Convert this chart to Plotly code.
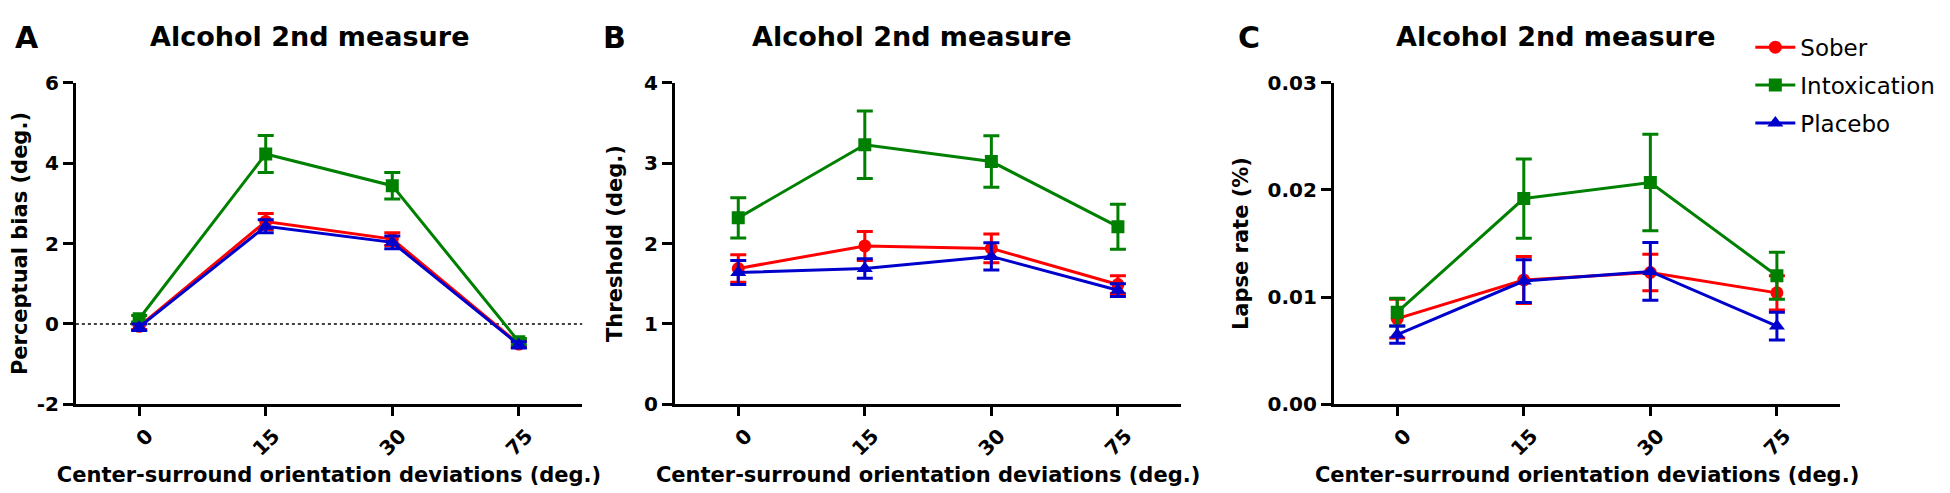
import plotly.graph_objects as go

# ---------------- data ----------------
categories = ["0", "15", "30", "75"]
series_names = ["Sober", "Intoxication", "Placebo"]

# Panel A: Perceptual bias (deg.)
bias_sober = [-0.06, 2.55, 2.11, -0.50]
bias_sober_err = [0.08, 0.20, 0.16, 0.08]
bias_intox = [0.13, 4.23, 3.44, -0.44]
bias_intox_err = [0.08, 0.46, 0.33, 0.08]
bias_placebo = [-0.08, 2.43, 2.03, -0.52]
bias_placebo_err = [0.08, 0.16, 0.16, 0.08]

# Panel B: Threshold (deg.)
thr_sober = [1.69, 1.97, 1.94, 1.49]
thr_sober_err = [0.17, 0.18, 0.18, 0.11]
thr_intox = [2.32, 3.23, 3.02, 2.21]
thr_intox_err = [0.25, 0.42, 0.32, 0.28]
thr_placebo = [1.64, 1.69, 1.84, 1.42]
thr_placebo_err = [0.15, 0.12, 0.17, 0.08]

# Panel C: Lapse rate (%)
lapse_sober = [0.0080, 0.0116, 0.0123, 0.0104]
lapse_sober_err = [0.0018, 0.0022, 0.0017, 0.0016]
lapse_intox = [0.0086, 0.0192, 0.0207, 0.0120]
lapse_intox_err = [0.0013, 0.0037, 0.0045, 0.0022]
lapse_placebo = [0.0065, 0.0115, 0.0124, 0.0073]
lapse_placebo_err = [0.0008, 0.0020, 0.0027, 0.0013]

panel_letters = ["A", "B", "C"]
panel_title = "Alcohol 2nd measure"
y_titles = ["Perceptual bias (deg.)", "Threshold (deg.)", "Lapse rate (%)"]
x_title = "Center-surround orientation deviations (deg.)"
y_ranges = [[-2, 6], [0, 4], [0, 0.03]]
y_tickvals = [[-2, 0, 2, 4, 6], [0, 1, 2, 3, 4], [0, 0.01, 0.02, 0.03]]
y_ticktext = [["-2", "0", "2", "4", "6"], ["0", "1", "2", "3", "4"],
              ["0.00", "0.01", "0.02", "0.03"]]

# ---------------- style ----------------
W, H = 1950, 493
colors = ["#FF0000", "#008000", "#0000CC"]
symbols = ["circle", "square", "triangle-up"]
msizes = [13, 13, 14]
FONT = "DejaVu Sans"

panels = [
    [(bias_sober, bias_sober_err), (bias_intox, bias_intox_err), (bias_placebo, bias_placebo_err)],
    [(thr_sober, thr_sober_err), (thr_intox, thr_intox_err), (thr_placebo, thr_placebo_err)],
    [(lapse_sober, lapse_sober_err), (lapse_intox, lapse_intox_err), (lapse_placebo, lapse_placebo_err)],
]

x_domains_px = [(65, 572), (665, 1172), (1325, 1832)]
y_domain = [1 - 404 / H, 1 - 66 / H]
title_centers_px = [299, 902, 1547]
letter_px = [16, 604, 1240]
y_standoffs = [14, 16, 14]

fig = go.Figure()

for p, series in enumerate(panels):
    suffix = "" if p == 0 else str(p + 1)
    for s, (vals, errs) in enumerate(series):
        fig.add_trace(go.Scatter(
            x=categories, y=vals,
            xaxis="x" + suffix, yaxis="y" + suffix,
            mode="lines+markers",
            name=series_names[s],
            legendgroup=series_names[s],
            showlegend=(p == 0),
            line=dict(color=colors[s], width=3),
            marker=dict(symbol=symbols[s], size=msizes[s], color=colors[s]),
            error_y=dict(type="data", array=errs, visible=True,
                         color=colors[s], thickness=3, width=8),
        ))

    d0, d1 = x_domains_px[p]
    xa = dict(
        domain=[d0 / W, d1 / W], anchor="y" + suffix,
        type="category", range=[-0.5, 3.5],
        showline=True, linewidth=3, linecolor="black",
        ticks="outside", ticklen=9, tickwidth=3, tickcolor="black",
        tickangle=-45, ticklabelshift=8,
        tickfont=dict(family=FONT, size=20, color="black", weight="bold"),
        showgrid=False, zeroline=False,
        title=dict(text=x_title, standoff=8,
                   font=dict(family=FONT, size=21, color="black", weight="bold")),
    )
    ya = dict(
        domain=y_domain, anchor="x" + suffix,
        range=y_ranges[p], tickvals=y_tickvals[p], ticktext=y_ticktext[p],
        showline=True, linewidth=3, linecolor="black",
        ticks="outside", ticklen=10, tickwidth=3, tickcolor="black",
        tickfont=dict(family=FONT, size=20, color="black", weight="bold"),
        showgrid=False, zeroline=False,
        title=dict(text=y_titles[p], standoff=y_standoffs[p],
                   font=dict(family=FONT, size=21, color="black", weight="bold")),
    )
    fig.layout["xaxis" + suffix] = xa
    fig.layout["yaxis" + suffix] = ya

    fig.add_annotation(text=panel_title, xref="paper", yref="paper",
                       x=title_centers_px[p] / W, y=1 - 17 / H,
                       xanchor="center", yanchor="middle", showarrow=False,
                       font=dict(family=FONT, size=27, color="black", weight="bold"))
    fig.add_annotation(text=panel_letters[p], xref="paper", yref="paper",
                       x=letter_px[p] / W, y=1 - 18 / H,
                       xanchor="center", yanchor="middle", showarrow=False,
                       font=dict(family=FONT, size=30, color="black", weight="bold"))

# dotted zero reference line in panel A
fig.add_shape(type="line", xref="x domain", yref="y", x0=0, x1=1, y0=0, y1=0,
              line=dict(color="black", width=1.5, dash="dot"), layer="below")

fig.update_layout(
    width=W, height=H,
    margin=dict(l=0, r=0, t=0, b=0),
    paper_bgcolor="white", plot_bgcolor="white",
    legend=dict(x=1742 / W, y=1 - 6 / H, xanchor="left", yanchor="top",
                bgcolor="rgba(0,0,0,0)",
                font=dict(family=FONT, size=23, color="black"),
                tracegroupgap=5, itemwidth=40),
)

fig.write_html("out.html")
